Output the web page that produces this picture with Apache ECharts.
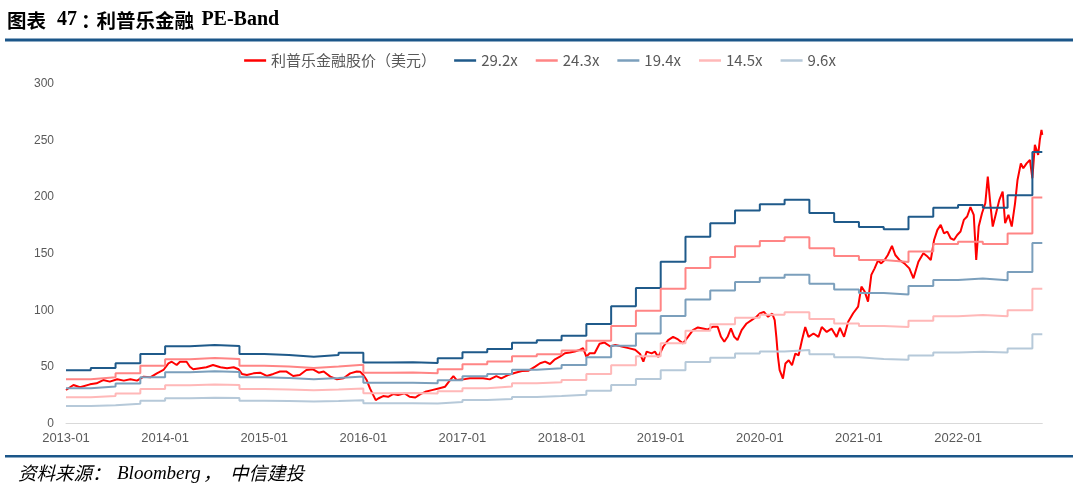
<!DOCTYPE html>
<html>
<head>
<meta charset="utf-8">
<script src="https://cdn.jsdelivr.net/npm/echarts@6/dist/echarts.min.js"></script>
<style>
html,body{margin:0;padding:0;background:#fff;}
#chart{width:1080px;height:489px;}
</style>
</head>
<body>
<div id="chart"></div>
<script>
// x values are months elapsed since 2013-01
const tickLabels = ['2013-01','2014-01','2015-01','2016-01','2017-01','2018-01','2019-01','2020-01','2021-01','2022-01'];
const seriesNames = ['利普乐金融股价（美元）','29.2x','24.3x','19.4x','14.5x','9.6x'];
const endMonth = 118.2;

// quarter start months for PE-band steps
const bandMonths = [0,3,6,9,12,15,18,21,24,27,30,33,36,39,42,45,48,51,54,57,60,63,66,69,72,75,78,81,84,87,90,93,96,99,102,105,108,111,114,117];
const band292 = [47.0,49.0,53.2,61.4,68.2,69.4,68.5,61.4,60.5,59.0,60.5,62.5,54.0,54.1,53.5,57.6,62.9,65.8,71.4,73.5,77.6,88.0,103.6,119.8,143.0,165.0,176.9,188.3,193.7,197.8,186.0,178.0,173.6,171.6,182.7,190.7,193.0,190.6,201.6,239.9];
const band243 = [39.1,40.8,44.3,51.1,56.8,57.8,57.0,51.1,50.3,49.1,50.3,52.0,44.9,45.0,44.5,47.9,52.3,54.8,59.4,61.2,64.6,73.2,86.2,99.7,119.0,137.3,147.2,156.7,161.2,164.6,154.8,148.1,144.5,142.8,152.0,158.7,160.6,158.6,167.8,199.6];
const band194 = [31.2,32.6,35.3,40.8,45.3,46.1,45.5,40.8,40.2,39.2,40.2,41.5,35.9,35.9,35.5,38.3,41.8,43.7,47.4,48.8,51.6,58.5,68.8,79.6,95.0,109.6,117.5,125.1,128.7,131.4,123.6,118.3,115.3,114.0,121.4,126.7,128.2,126.6,133.9,159.4];
const band145 = [23.3,24.3,26.4,30.5,33.9,34.5,34.0,30.5,30.0,29.3,30.0,31.0,26.8,26.9,26.6,28.6,31.2,32.7,35.5,36.5,38.5,43.7,51.4,59.5,71.0,81.9,87.8,93.5,96.2,98.2,92.4,88.4,86.2,85.2,90.7,94.7,95.8,94.7,100.1,119.1];
const band96 = [15.5,16.1,17.5,20.2,22.4,22.8,22.5,20.2,19.9,19.4,19.9,20.6,17.8,17.8,17.6,18.9,20.7,21.6,23.5,24.2,25.5,28.9,34.1,39.4,47.0,54.3,58.2,61.9,63.7,65.0,61.2,58.5,57.1,56.4,60.1,62.7,63.5,62.7,66.3,78.9];

// stock price (USD)
const priceMonths = [0.0,0.9,1.7,2.9,3.7,4.5,5.3,6.2,7.0,7.8,8.6,9.4,10.2,11.0,11.8,12.4,12.8,13.4,13.8,14.6,15.0,15.4,16.2,17.0,17.8,18.7,19.5,20.3,20.9,21.3,21.9,22.7,23.5,24.3,25.1,25.9,26.7,27.5,28.3,29.1,29.9,30.6,31.2,32.0,32.8,33.6,34.4,35.2,35.6,36.0,36.4,36.8,37.2,37.5,37.8,38.4,39.0,39.6,40.2,41.0,41.6,42.3,42.9,43.5,44.3,45.1,45.9,46.5,46.9,47.3,48.1,48.9,49.7,50.5,51.3,52.1,52.7,53.5,54.4,55.2,56.0,56.8,57.4,58.0,58.6,59.2,59.8,60.4,61.0,61.6,62.2,62.6,63.0,63.4,64.0,64.6,65.2,65.9,66.5,67.3,68.1,68.9,69.5,69.9,70.3,70.9,71.3,71.7,72.3,72.9,73.5,74.1,74.7,75.3,75.9,76.5,77.1,77.7,78.3,78.9,79.3,79.7,80.1,80.5,80.9,81.3,81.8,82.4,83.0,83.6,84.0,84.5,85.0,85.5,85.8,86.0,86.2,86.4,86.8,87.1,87.5,87.9,88.3,88.7,89.1,89.5,89.9,90.5,91.1,91.5,92.1,92.7,93.3,93.7,94.2,94.7,95.3,95.9,96.3,96.7,97.1,97.5,97.9,98.3,98.7,99.1,99.5,100.0,100.4,100.9,101.5,102.1,102.6,103.2,103.8,104.3,104.7,105.1,105.5,105.9,106.3,106.7,107.1,107.5,107.9,108.3,108.7,109.1,109.5,109.9,110.2,110.5,110.9,111.3,111.6,111.9,112.2,112.6,113.0,113.4,113.7,114.1,114.5,114.9,115.2,115.6,115.9,116.3,116.7,117.0,117.3,117.7,117.9,118.1,118.2];
const priceValues = [29.6,34.0,32.0,34.6,35.5,38.4,37.0,39.1,37.9,39.1,37.9,41.4,40.8,44.3,47.3,53.2,54.6,51.7,54.6,54.6,50.2,47.9,48.8,49.7,51.7,49.7,48.8,49.7,47.9,43.8,42.9,44.3,44.9,42.0,43.8,45.9,45.9,42.0,42.9,47.3,47.9,44.9,45.9,41.4,39.1,40.0,44.3,45.9,45.8,42.8,38.4,31.0,25.1,20.7,22.1,24.2,23.6,26.0,25.1,26.6,23.6,23.0,26.0,28.0,29.5,31.0,32.5,38.4,41.9,38.4,39.0,39.9,39.9,39.9,39.0,41.9,39.9,42.8,44.9,46.4,46.7,50.2,53.2,54.7,52.6,56.7,59.1,62.1,62.7,63.6,65.1,66.6,59.1,62.1,62.1,70.4,71.5,68.0,69.5,68.0,66.6,65.1,61.5,54.6,63.5,62.0,63.5,58.8,67.8,73.7,76.6,74.3,70.8,76.6,82.5,84.9,84.0,83.1,85.4,85.4,76.6,72.2,76.6,84.0,76.6,73.7,82.5,88.4,91.3,94.3,97.2,98.7,94.3,97.2,91.3,76.6,58.9,47.1,39.7,53.0,55.9,51.5,61.8,60.3,73.5,85.3,76.5,79.5,76.5,85.3,80.9,83.8,76.5,84.5,76.6,90.0,97.4,103.3,121.0,116.5,107.7,131.3,137.1,144.0,141.5,144.5,148.9,156.9,148.9,144.5,141.5,137.1,128.3,143.0,150.4,147.5,144.5,162.2,171.1,175.5,168.1,169.6,163.7,162.2,166.6,169.6,179.9,182.9,191.2,184.3,144.5,174.0,185.8,194.6,218.2,194.6,174.0,185.8,197.6,205.0,177.0,184.4,174.0,194.6,215.2,229.9,225.5,229.9,232.9,216.7,246.2,237.4,250.7,259.5,255.0];

const bandColors = ['#1F5A8A','#FF8585','#7B9FBC','#FFB8B8','#B6C9D9'];
const bands = [band292, band243, band194, band145, band96];

function bandData(arr){
  const d = bandMonths.map((m,i)=>[m, arr[i]]);
  d.push([endMonth, arr[arr.length-1]]);
  return d;
}

const series = [{
  name: seriesNames[0], type: 'line', showSymbol: false, symbol: 'none',
  data: priceMonths.map((m,i)=>[m, priceValues[i]]),
  lineStyle: {color: '#FF0000', width: 2}, itemStyle: {color: '#FF0000'}
}];
bands.forEach((b, i) => {
  series.push({
    name: seriesNames[i+1], type: 'line', step: 'end', showSymbol: false, symbol: 'none',
    data: bandData(b),
    lineStyle: {color: bandColors[i], width: 2}, itemStyle: {color: bandColors[i]}
  });
});

const chart = echarts.init(document.getElementById('chart'), null, {renderer: 'canvas'});
chart.setOption({
  animation: false,
  backgroundColor: '#ffffff',
  grid: {left: 66, right: 37.7, top: 84, bottom: 65.5, containLabel: false},
  legend: {
    data: seriesNames, top: 48, left: 'center', icon: 'rect',
    itemWidth: 22, itemHeight: 2.5, itemGap: 18,
    textStyle: {fontFamily: 'Noto Sans CJK SC', fontSize: 15, color: '#595959'}
  },
  xAxis: {
    type: 'value', min: 0, max: endMonth, interval: 12,
    axisLine: {show: true, lineStyle: {color: '#D9D9D9', width: 1}},
    axisTick: {show: false}, splitLine: {show: false},
    axisLabel: {
      color: '#595959', fontSize: 13, fontFamily: 'Liberation Sans', margin: 8,
      showMaxLabel: false,
      formatter: v => (Math.abs(v % 12) < 1e-6 ? (tickLabels[Math.round(v/12)] || '') : '')
    }
  },
  yAxis: {
    type: 'value', min: 0, max: 300, interval: 50,
    axisLine: {show: false}, axisTick: {show: false}, splitLine: {show: false},
    axisLabel: {color: '#595959', fontSize: 12, fontFamily: 'Liberation Sans', margin: 12}
  },
  graphic: [
    {type: 'text', left: 7, top: 11, style: {text: '图表', font: 'bold 19.5px "Noto Sans CJK SC"', fill: '#000'}},
    {type: 'text', left: 57, top: 10, style: {text: '47', font: 'bold 20px "Liberation Serif"', fill: '#000'}},
    {type: 'text', left: 81, top: 11, style: {text: '：', font: 'bold 19.5px "Noto Sans CJK SC"', fill: '#000'}},
    {type: 'text', left: 96.4, top: 11, style: {text: '利普乐金融', font: 'bold 19.5px "Noto Sans CJK SC"', fill: '#000'}},
    {type: 'text', left: 201.4, top: 10, style: {text: 'PE-Band', font: 'bold 20px "Liberation Serif"', fill: '#000'}},
    {type: 'rect', shape: {x: 5, y: 38.5, width: 1068, height: 3}, style: {fill: '#1B5689'}},
    {type: 'rect', shape: {x: 5, y: 455, width: 1068, height: 2.5}, style: {fill: '#1B5689'}},
    {type: 'text', left: 18, top: 464, style: {text: '资料来源：', font: 'italic 18.5px "Noto Sans CJK SC"', fill: '#000'}},
    {type: 'text', left: 117, top: 464, style: {text: 'Bloomberg', font: 'italic 19px "Liberation Serif"', fill: '#000'}},
    {type: 'text', left: 203, top: 464, style: {text: '，', font: 'italic 18.5px "Noto Sans CJK SC"', fill: '#000'}},
    {type: 'text', left: 230, top: 464, style: {text: '中信建投', font: 'italic 18.5px "Noto Sans CJK SC"', fill: '#000'}}
  ],
  series: series
});
</script>
</body>
</html>
